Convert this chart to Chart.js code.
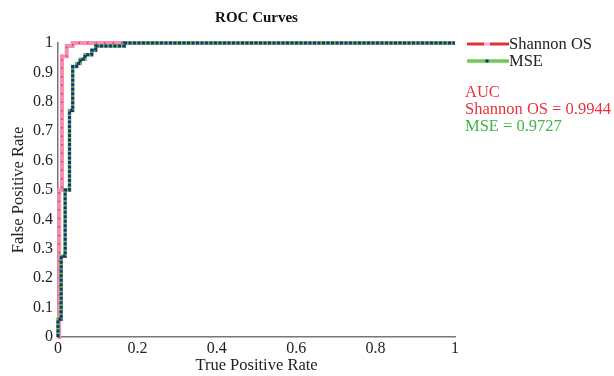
<!DOCTYPE html>
<html>
<head>
<meta charset="utf-8">
<script src="https://cdn.jsdelivr.net/npm/chart.js@4"></script>
<style>
  html, body { margin: 0; padding: 0; background: #fff; }
  #wrap { width: 614px; height: 376px; }
</style>
</head>
<body>
<div id="wrap"><canvas id="roc" width="614" height="376"></canvas></div>
<script>
const shannonX = [0, 0.003, 0.003, 0.01, 0.01, 0.022, 0.022, 0.037, 0.037, 1];
const shannonY = [0, 0, 0.5, 0.5, 0.955, 0.955, 0.99, 0.99, 1, 1];

const mseX = [0, 0, 0.008, 0.008, 0.018, 0.018, 0.029, 0.029, 0.037, 0.037, 0.047, 0.047,
  0.056, 0.056, 0.068, 0.068, 0.085, 0.085, 0.095, 0.095, 0.167, 0.167, 1];
const mseY = [0, 0.06, 0.06, 0.275, 0.275, 0.5, 0.5, 0.77, 0.77, 0.92, 0.92, 0.93,
  0.93, 0.945, 0.945, 0.96, 0.96, 0.975, 0.975, 0.99, 0.99, 1, 1];

const legendNames = ["Shannon OS", "MSE"];
const aucLines = ["AUC", "Shannon OS = 0.9944", "MSE = 0.9727"];

const FONT = "'Liberation Serif', 'Times New Roman', serif";
const PINK = "#f58fb4";
const RED = "#e2313c";
const NAVY = "#1e2f86";
const GREEN = "#62c246";

const toPoints = (xs, ys) => xs.map((x, i) => ({ x: x, y: ys[i] }));
const tickLabel = (v) => String(+Number(v).toFixed(1));

// legend + AUC text on the right side
const sideLegend = {
  id: "sideLegend",
  afterDraw(chart) {
    const ctx = chart.ctx;
    ctx.save();
    ctx.font = "16.5px " + FONT;
    ctx.textBaseline = "middle";
    ctx.textAlign = "left";

    // Shannon OS entry
    ctx.lineWidth = 3;
    ctx.strokeStyle = RED;
    ctx.beginPath();
    ctx.moveTo(467, 44); ctx.lineTo(484, 44);
    ctx.moveTo(490, 44); ctx.lineTo(509, 44);
    ctx.stroke();
    ctx.strokeStyle = "#f6b3c6";
    ctx.beginPath();
    ctx.moveTo(484, 44); ctx.lineTo(490, 44);
    ctx.stroke();
    ctx.fillStyle = "#222";
    ctx.fillText(legendNames[0], 509, 45);

    // MSE entry
    ctx.lineWidth = 3.5;
    ctx.strokeStyle = "#6fcb50";
    ctx.beginPath();
    ctx.moveTo(467, 61); ctx.lineTo(509, 61);
    ctx.stroke();
    ctx.fillStyle = NAVY;
    ctx.beginPath();
    ctx.arc(487, 61, 1.8, 0, Math.PI * 2);
    ctx.fill();
    ctx.fillStyle = "#222";
    ctx.fillText(legendNames[1], 509, 62);

    // AUC block
    ctx.fillStyle = "#e8333d";
    ctx.fillText(aucLines[0], 465, 93);
    ctx.fillText(aucLines[1], 465, 110);
    ctx.fillStyle = "#3fb447";
    ctx.fillText(aucLines[2], 465, 127);
    ctx.restore();
  }
};

new Chart(document.getElementById("roc"), {
  type: "line",
  data: {
    datasets: [
      {
        label: "MSE",
        data: toPoints(mseX, mseY),
        borderColor: NAVY,
        borderWidth: 3,
        borderDash: [3, 1.5],
        pointRadius: 0,
        clip: false,
        order: 1
      },
      {
        label: "MSE base",
        data: toPoints(mseX, mseY),
        borderColor: GREEN,
        borderWidth: 3.5,
        pointRadius: 0,
        clip: false,
        order: 2
      },
      {
        label: "Shannon OS dots",
        data: toPoints(shannonX, shannonY),
        borderColor: RED,
        borderWidth: 1.5,
        borderDash: [1.5, 7],
        pointRadius: 0,
        clip: false,
        order: 3
      },
      {
        label: "Shannon OS",
        data: toPoints(shannonX, shannonY),
        borderColor: PINK,
        borderWidth: 4,
        pointRadius: 0,
        clip: false,
        order: 4
      }
    ]
  },
  options: {
    responsive: false,
    animation: false,
    layout: { padding: { left: 0, right: 159, top: 0, bottom: 0 } },
    elements: { line: { tension: 0 } },
    plugins: {
      legend: { display: false },
      tooltip: { enabled: false },
      title: {
        display: true,
        text: "ROC Curves",
        fullSize: false,
        color: "#111",
        font: { family: FONT, size: 15, weight: "bold" },
        padding: { top: 9, bottom: 16 }
      }
    },
    scales: {
      x: {
        type: "linear",
        min: 0,
        max: 1,
        ticks: { stepSize: 0.2, color: "#222", font: { family: FONT, size: 16 }, padding: 2, maxRotation: 0, callback: tickLabel },
        grid: { drawOnChartArea: false, drawTicks: false },
        border: { color: "#777", width: 1.5 },
        title: { display: true, text: "True Positive Rate", color: "#222", font: { family: FONT, size: 16.5 }, padding: { top: 0, bottom: 0 } },
        afterFit: (s) => { s.height = 39; }
      },
      y: {
        type: "linear",
        min: 0,
        max: 1,
        ticks: { stepSize: 0.1, color: "#222", font: { family: FONT, size: 16 }, padding: 5, callback: tickLabel },
        grid: { drawOnChartArea: false, drawTicks: false },
        border: { color: "#777", width: 1.5 },
        title: { display: true, text: "False Positive Rate", color: "#222", font: { family: FONT, size: 16.5 }, padding: { top: 9, bottom: 0 } },
        afterFit: (s) => { s.width = 58; }
      }
    }
  },
  plugins: [sideLegend]
});
</script>
</body>
</html>
